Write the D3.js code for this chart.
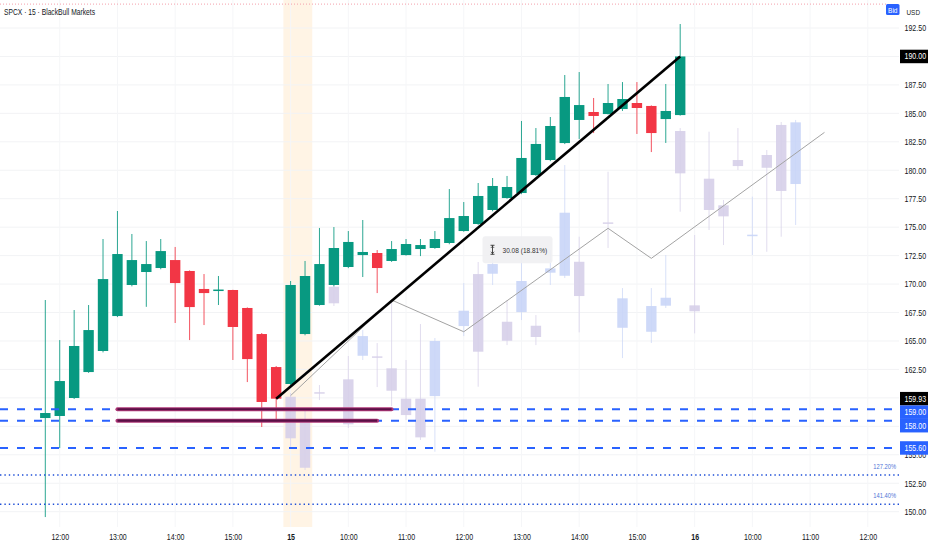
<!doctype html>
<html>
<head>
<meta charset="utf-8">
<title>SPCX · 15 · BlackBull Markets</title>
<style>
  body { margin: 0; background: #fff; }
  svg { display: block; }
  text { font-family: "Liberation Sans", Arial, sans-serif; }
</style>
</head>
<body>
<div id="chart"></div>
<script src="https://d3js.org/d3.v7.min.js"></script>
<script>
// ---- data ----
const candleOpen  = [158.23,158.41,159.99,162.27,164.12,167.19,169.92,171.06,171.41,172.11,171.15,169.57,169.43,169.48,167.90,165.61,162.71,161.22,165.61,168.16,169.92,171.50,172.55,172.73,172.03,172.55,173.08,173.17,173.61,174.66,175.28,176.51,177.56,178.00,179.58,180.90,182.39,184.42,185.12,184.94,185.38,185.91,185.65,184.50,184.85];
const candleHigh  = [168.60,165.08,167.72,168.16,173.96,176.42,174.40,173.78,173.96,173.26,171.20,170.88,170.71,169.50,167.95,165.70,162.80,170.27,172.03,174.93,175.01,174.66,175.63,172.99,173.78,173.96,173.96,174.66,178.35,177.21,178.88,179.32,179.50,184.33,183.71,184.68,188.37,188.63,186.35,187.58,187.75,187.75,185.70,187.58,192.85];
const candleLow   = [149.53,155.59,159.90,162.20,164.00,167.10,169.80,168.00,171.30,166.58,165.08,166.40,168.16,163.33,161.39,157.44,158.05,161.10,165.50,168.10,169.80,171.40,170.62,169.21,171.95,172.50,172.46,173.10,173.50,174.60,175.20,176.40,177.50,177.90,179.50,180.80,182.30,182.75,183.27,184.90,185.21,183.19,181.60,182.40,184.80];
const candleClose = [158.67,161.48,164.56,165.96,170.44,172.64,172.11,171.76,172.90,170.09,167.98,169.21,169.52,166.23,163.41,159.64,159.93,169.92,170.71,171.76,173.17,173.70,172.82,171.41,173.08,173.52,173.43,173.96,175.80,175.98,177.74,178.62,178.53,181.08,182.31,183.89,186.44,185.73,184.77,185.91,186.26,185.47,183.27,185.21,190.00];

// projected (faded) bars pattern
const ghostIndex = [17,18,19,20,21,22,23,24,25,26,27,29,30,31,32,33,34,35,36,37,39,40,42,43,44,45,46,47,48,49,50,51,52];
const ghostOpen  = [160.10,157.90,160.50,169.77,161.63,163.70,163.65,162.60,159.93,159.93,160.16,166.31,170.88,170.91,166.69,167.54,166.34,171.00,170.73,171.96,175.42,166.16,165.81,168.10,183.45,168.13,179.26,176.92,180.90,174.28,181.34,183.98,178.79];
const ghostHigh  = [160.43,158.93,161.13,170.09,163.68,165.96,164.82,168.60,163.33,166.49,165.26,170.09,171.94,172.29,168.60,172.11,167.28,172.99,180.46,174.16,179.87,169.65,169.65,172.55,183.71,174.31,183.39,177.39,183.71,177.68,181.78,184.24,184.42];
const ghostLow   = [155.71,153.66,159.81,168.07,157.35,163.33,160.95,159.28,158.05,156.30,155.27,165.43,160.98,169.92,164.64,166.84,164.64,169.92,170.53,165.76,173.17,163.50,164.82,167.90,176.36,165.67,174.75,173.43,180.02,172.55,172.84,174.16,175.19];
const ghostClose = [156.45,153.86,160.42,168.31,157.68,165.43,163.60,160.63,158.49,156.53,165.00,167.66,164.06,171.76,165.02,170.27,165.35,171.38,176.27,168.95,175.36,168.75,168.07,168.80,179.73,167.61,176.51,175.95,180.37,174.34,180.22,178.18,184.21];

// drawings
const trendIndex = [16, 44];
const trendPrice = [159.93, 190.00];
const pathIndex = [17, 24, 29, 39, 42, 54];
const pathPrice = [160.20, 168.60, 165.81, 174.90, 172.26, 183.33];
const dashedLevels = [159.00, 158.00, 155.60];
const fibLevels = [153.22, 150.65];
const fibLabels = ["127.20%", "141.40%"];
const zonePrice = [159.00, 158.00];
const zoneStart = [5, 5];
const zoneEnd = [24, 23];
const bidPrice = 194.6;
const measureText = "30.08 (18.81%)";

// axes
const priceTicks = d3.range(150, 192.51, 2.5);
const timeTickIndex = [1, 5, 9, 13, 17, 21, 25, 29, 33, 37, 41, 45, 49, 53, 57];
const timeTickLabels = ["12:00","13:00","14:00","15:00","15","10:00","11:00","12:00","13:00","14:00","15:00","16","10:00","11:00","12:00"];
const axisBoxPrice = [190.00, 159.93, 159.00, 158.00, 155.60];
const axisBoxKind = ["trend", "trend", "level", "level", "level"];

// ---- chart ----
const width = 932, height = 550;
const plotRight = 899, plotBottom = 527;
const up = "#089981", down = "#f23645";
const ghostUp = "#c9d5f7", ghostDown = "#d6cfe9";
const narrow = 'scale(0.82,1)';   // no condensed face installed, squeeze text instead

const svg = d3.select('#chart').append('svg')
  .attr('width', width).attr('height', height);

const x = d3.scaleLinear().domain([0, 44]).range([45.3, 680.2]);
const y = d3.scaleLinear().domain([150, 192.5]).range([511.7, 28]);
const bw = 10.4;

// small helper: text placed at (px,py) and squeezed horizontally
const label = (parent, px, py, str) => parent.append('text')
  .attr('transform', `translate(${px},${py}) ${narrow}`).text(str);

const plot = svg.append('g');

// session highlight
plot.append('rect')
  .attr('x', x(16.5)).attr('y', 0)
  .attr('width', x(18.5) - x(16.5)).attr('height', plotBottom)
  .attr('fill', '#ff9800').attr('opacity', 0.1);

// grid
plot.append('g').selectAll('line').data(priceTicks).join('line')
  .attr('x1', 0).attr('x2', plotRight)
  .attr('y1', d => y(d)).attr('y2', d => y(d))
  .attr('stroke', '#f2f3f5').attr('stroke-width', 1);
plot.append('g').selectAll('line').data(timeTickIndex).join('line')
  .attr('x1', d => x(d)).attr('x2', d => x(d))
  .attr('y1', 0).attr('y2', plotBottom)
  .attr('stroke', '#f5f6f8').attr('stroke-width', 1);

// bid line
plot.append('line')
  .attr('x1', 0).attr('x2', 886).attr('y1', y(bidPrice)).attr('y2', y(bidPrice))
  .attr('stroke', '#f4a0ac').attr('stroke-width', 1).attr('stroke-dasharray', '1,2');

// ghost bars
const ghosts = ghostIndex.map((d, k) => ({ i: d, o: ghostOpen[k], h: ghostHigh[k], l: ghostLow[k], c: ghostClose[k] }));
const gg = plot.append('g');
gg.selectAll('line').data(ghosts).join('line')
  .attr('x1', d => x(d.i)).attr('x2', d => x(d.i))
  .attr('y1', d => y(d.h)).attr('y2', d => y(d.l))
  .attr('stroke', d => d.c >= d.o ? ghostUp : ghostDown).attr('stroke-width', 1).attr('opacity', 0.7);
gg.selectAll('rect').data(ghosts).join('rect')
  .attr('x', d => x(d.i) - bw / 2).attr('width', bw)
  .attr('y', d => y(Math.max(d.o, d.c)))
  .attr('height', d => Math.max(1.5, Math.abs(y(d.o) - y(d.c))))
  .attr('fill', d => d.c >= d.o ? ghostUp : ghostDown).attr('opacity', 0.9);

// projection path
plot.append('path')
  .attr('d', d3.line().x(d => x(d[0])).y(d => y(d[1]))(pathIndex.map((d, k) => [d, pathPrice[k]])))
  .attr('fill', 'none').attr('stroke', '#a3a3a3').attr('stroke-width', 1);

// candles
const candles = candleOpen.map((o, k) => ({ i: k, o, h: candleHigh[k], l: candleLow[k], c: candleClose[k] }));
const cg = plot.append('g');
cg.selectAll('line').data(candles).join('line')
  .attr('x1', d => x(d.i)).attr('x2', d => x(d.i))
  .attr('y1', d => y(d.h)).attr('y2', d => y(d.l))
  .attr('stroke', d => d.c >= d.o ? up : down).attr('stroke-width', 1).attr('opacity', 0.85);
cg.selectAll('rect').data(candles).join('rect')
  .attr('x', d => x(d.i) - bw / 2).attr('width', bw)
  .attr('y', d => y(Math.max(d.o, d.c)))
  .attr('height', d => Math.max(1.5, Math.abs(y(d.o) - y(d.c))))
  .attr('fill', d => d.c >= d.o ? up : down);

// dashed price levels
plot.append('g').selectAll('line').data(dashedLevels).join('line')
  .attr('x1', 0).attr('x2', plotRight)
  .attr('y1', d => y(d)).attr('y2', d => y(d))
  .attr('stroke', '#2962ff').attr('stroke-width', 2).attr('stroke-dasharray', '8,9');

// fib extension levels
const fg = plot.append('g');
fg.selectAll('line').data(fibLevels).join('line')
  .attr('x1', 0).attr('x2', plotRight)
  .attr('y1', d => y(d)).attr('y2', d => y(d))
  .attr('stroke', '#1e4fd8').attr('stroke-width', 1.4).attr('stroke-dasharray', '1.4,3');
fibLevels.forEach((d, k) => {
  label(fg, 896, y(d) - 6, fibLabels[k])
    .attr('text-anchor', 'end').attr('font-size', 7).attr('fill', '#4f74d6');
});

// zone lines
const zones = zonePrice.map((p, k) => ({ p, a: zoneStart[k], b: zoneEnd[k] }));
const zg = plot.append('g');
zg.selectAll('line.o').data(zones).join('line').attr('class', 'o')
  .attr('x1', d => x(d.a)).attr('x2', d => x(d.b))
  .attr('y1', d => y(d.p)).attr('y2', d => y(d.p))
  .attr('stroke', '#b03878').attr('stroke-width', 4).attr('stroke-linecap', 'round');
zg.selectAll('line.i').data(zones).join('line').attr('class', 'i')
  .attr('x1', d => x(d.a)).attr('x2', d => x(d.b))
  .attr('y1', d => y(d.p)).attr('y2', d => y(d.p))
  .attr('stroke', '#5a1046').attr('stroke-width', 2.2);

// trend line
plot.append('line')
  .attr('x1', x(trendIndex[0])).attr('y1', y(trendPrice[0]))
  .attr('x2', x(trendIndex[1])).attr('y2', y(trendPrice[1]))
  .attr('stroke', '#000').attr('stroke-width', 2.6);

// measure label
const mg = plot.append('g').attr('transform', `translate(${x(30.3)},${y(174.2)})`);
mg.append('rect').attr('width', 70).attr('height', 27).attr('rx', 3)
  .attr('fill', '#f0f0f2').attr('opacity', 0.9);
mg.append('path').attr('d', 'M8,9h4M10,9v9M8,18h4M8.5,11.5l1.5-1.5l1.5,1.5M8.5,15.5l1.5,1.5l1.5-1.5')
  .attr('stroke', '#333').attr('stroke-width', 0.9).attr('fill', 'none');
label(mg, 20, 16.5, measureText).attr('font-size', 8).attr('fill', '#333');

// title
label(svg, 4, 14.5, 'SPCX · 15 · BlackBull Markets').attr('font-size', 8.2).attr('fill', '#131722');

// price axis
const yAxis = svg.append('g').attr('transform', `translate(${plotRight},0)`)
  .call(d3.axisRight(y).tickValues(priceTicks).tickSize(0).tickFormat(d3.format('.2f')));
yAxis.select('.domain').remove();
yAxis.selectAll('text').attr('x', 0).attr('transform', `translate(5.5,0) ${narrow}`)
  .attr('font-size', 8.6).attr('fill', '#131722').attr('font-family', null);

label(svg, 906.5, 15, 'USD').attr('font-size', 7.8).attr('fill', '#131722');
const bid = svg.append('g').attr('transform', 'translate(886,4)');
bid.append('rect').attr('width', 13.5).attr('height', 11).attr('rx', 1.5).attr('fill', '#2962ff');
label(bid, 6.75, 8.5, 'Bid').attr('text-anchor', 'middle').attr('font-size', 8).attr('fill', '#fff');

// axis price boxes, pushed down where they would overlap
const boxH = 13.5;
const boxes = axisBoxPrice.map((p, k) => ({ p, kind: axisBoxKind[k], cy: y(p) }))
  .sort((a, b) => a.cy - b.cy);
for (let k = 1; k < boxes.length; k++) {
  if (boxes[k].cy - boxes[k - 1].cy < boxH) boxes[k].cy = boxes[k - 1].cy + boxH;
}
const bg = svg.append('g').selectAll('g').data(boxes).join('g')
  .attr('transform', d => `translate(${plotRight + 1},${d.cy - boxH / 2})`);
bg.append('rect').attr('width', 28).attr('height', boxH)
  .attr('fill', d => d.kind === 'trend' ? '#000' : '#2962ff');
bg.append('text').attr('transform', `translate(4.5,${boxH / 2 + 3}) ${narrow}`)
  .attr('font-size', 8.6).attr('fill', '#fff')
  .text(d => d3.format('.2f')(d.p));

// time axis
const xAxis = svg.append('g').attr('transform', `translate(0,${plotBottom})`)
  .call(d3.axisBottom(x).tickValues(timeTickIndex).tickSize(0).tickPadding(7)
    .tickFormat((d, k) => timeTickLabels[k]));
xAxis.select('.domain').remove();
xAxis.selectAll('text').attr('transform', narrow)
  .attr('font-size', 8.6).attr('fill', '#131722').attr('font-family', null)
  .attr('font-weight', (d, k) => timeTickLabels[k].length <= 2 ? 700 : 400);
</script>
</body>
</html>
